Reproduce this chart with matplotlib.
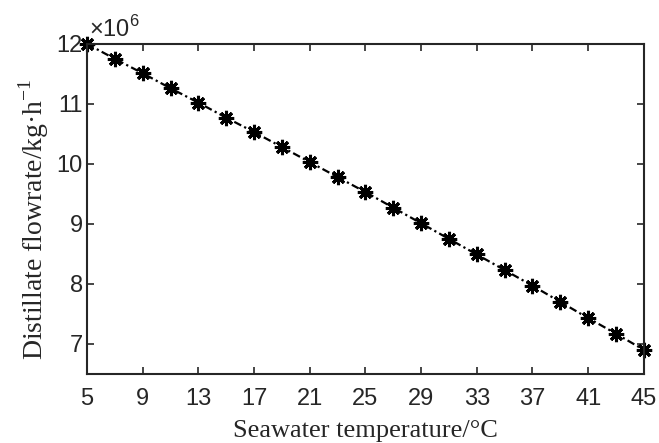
import matplotlib
matplotlib.use("Agg")
import matplotlib.pyplot as plt

# ── Data ───────────────────────────────────────────────────────────────────
temps = [5, 7, 9, 11, 13, 15, 17, 19, 21, 23, 25, 27, 29, 31, 33, 35, 37, 39, 41, 43, 45]
flow_1e6 = [12.00, 11.75, 11.51, 11.26, 11.02, 10.77, 10.53, 10.28, 10.03, 9.78,
            9.53, 9.27, 9.01, 8.75, 8.49, 8.23, 7.97, 7.70, 7.43, 7.17, 6.90]
xticks = [5, 9, 13, 17, 21, 25, 29, 33, 37, 41, 45]
yticks = [7, 8, 9, 10, 11, 12]

SANS = "Liberation Sans"
SERIF = "Liberation Serif"

fig = plt.figure(figsize=(6.59, 4.43), dpi=100)
ax = fig.add_axes([0.132, 0.156, 0.845, 0.745])

ax.plot(temps, flow_1e6, linestyle=(0, (3.5, 1.5, 1, 1.5)), color="black",
        linewidth=1.6, marker=(8, 2, 0), markersize=11, markeredgewidth=2.2,
        clip_on=False)

ax.set_xlim(5, 45)
ax.set_ylim(6.5, 12)
ax.set_xticks(xticks)
ax.set_yticks(yticks)
ax.tick_params(direction="in", top=True, right=True, length=5, width=1.2,
               labelsize=17, colors="#262626")
ax.tick_params(axis="x", pad=10.5)
ax.tick_params(axis="y", pad=3)
for lab in ax.get_xticklabels() + ax.get_yticklabels():
    lab.set_fontfamily(SANS)
for sp in ax.spines.values():
    sp.set_linewidth(1.5)
    sp.set_color("#262626")

ax.set_xlabel("Seawater temperature/\u00b0C", fontsize=19, family=SERIF,
              color="#262626", labelpad=7)
ax.set_ylabel("Distillate flowrate/kg\u00b7h$^{\\mathregular{-1}}$", fontsize=20,
              family=SERIF, color="#262626")
ax.yaxis.set_label_coords(-0.065, 0.47)
ax.text(0.004, 1.005, "\u00d710$^{\\mathregular{6}}$", transform=ax.transAxes,
        fontsize=17, family=SANS, color="#262626", ha="left", va="bottom")

fig.savefig("out.png", dpi=100)
